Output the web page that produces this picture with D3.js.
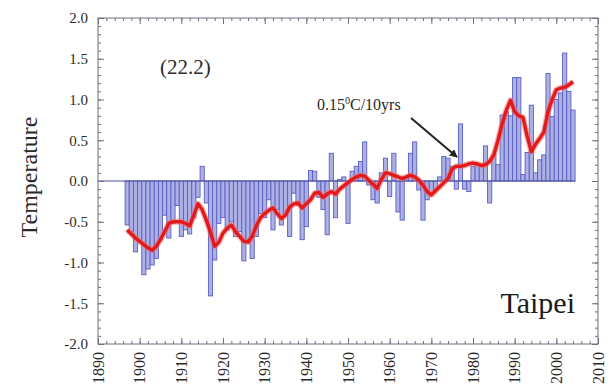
<!DOCTYPE html>
<html><head><meta charset="utf-8">
<title>Taipei temperature anomalies</title>
<script src="https://cdn.jsdelivr.net/npm/d3@7"></script>
<style>body{margin:0;background:#fff}svg{display:block}</style>
</head><body>
<div id="chart"></div>
<script>
// ---- data ----
const firstYear = 1897;
const anomaly = [
  -0.54,-0.62,-0.87,                                              // 1897-1899
  -0.75,-1.15,-1.08,-1.03,-0.95,-0.70,-0.42,-0.70,-0.52,-0.30,    // 1900s
  -0.68,-0.60,-0.65,-0.45,-0.20, 0.18,-0.27,-1.41,-0.97,-0.52,    // 1910s
  -0.45,-0.60,-0.50,-0.68,-0.62,-0.98,-0.72,-0.95,-0.68,-0.40,    // 1920s
  -0.45,-0.23,-0.60,-0.35,-0.54,-0.40,-0.68,-0.15,-0.30,-0.72,    // 1930s
  -0.56, 0.13, 0.12,-0.20,-0.35,-0.66, 0.34,-0.45, 0.02, 0.05,    // 1940s
  -0.52, 0.12, 0.18, 0.24, 0.48,-0.05,-0.23,-0.27, 0.10, 0.28,    // 1950s
  -0.19, 0.34,-0.38,-0.48, 0.05, 0.34, 0.48,-0.11,-0.48,-0.23,    // 1960s
  -0.15,-0.10, 0.05, 0.30, 0.28, 0.18,-0.10, 0.70,-0.10,-0.13,    // 1970s
   0.18, 0.20, 0.18, 0.43,-0.27, 0.32, 0.20, 0.81, 0.85, 0.80,    // 1980s
   1.27, 1.27, 0.08, 0.35, 0.93, 0.10, 0.26, 0.32, 1.32, 0.79,    // 1990s
   1.00, 1.08, 1.57, 1.10, 0.87                                   // 2000-2004
];
const smooth = [
  -0.60,-0.65,-0.70,
  -0.74,-0.78,-0.82,-0.85,-0.80,-0.72,-0.62,-0.52,-0.50,-0.50,
  -0.50,-0.52,-0.55,-0.42,-0.28,-0.35,-0.48,-0.63,-0.80,-0.75,
  -0.64,-0.58,-0.54,-0.62,-0.68,-0.74,-0.75,-0.68,-0.55,-0.45,
  -0.40,-0.36,-0.33,-0.40,-0.46,-0.42,-0.32,-0.28,-0.27,-0.33,
  -0.28,-0.23,-0.15,-0.14,-0.20,-0.16,-0.13,-0.16,-0.10,-0.06,
  -0.02, 0.02, 0.05, 0.07, 0.06, 0.01,-0.04,-0.09, 0.02, 0.10,
   0.09, 0.07, 0.05, 0.03, 0.05, 0.07, 0.05, 0.01,-0.05,-0.13,
  -0.17,-0.12,-0.07,-0.02, 0.03, 0.15, 0.18, 0.18, 0.19, 0.21,
   0.22, 0.21, 0.19, 0.20, 0.24, 0.32, 0.50, 0.70, 0.87, 0.99,
   0.85, 0.80, 0.78, 0.55, 0.36, 0.45, 0.52, 0.60, 0.85, 1.00,
   1.12, 1.14, 1.15, 1.18, 1.22
];
const yearTicks = [1890,1900,1910,1920,1930,1940,1950,1960,1970,1980,1990,2000,2010];
const valueTicks = [-2.0,-1.5,-1.0,-0.5,0.0,0.5,1.0,1.5,2.0];
const yLabel = "Temperature";
const stationLabel = "Taipei";
const meanLabel = "(22.2)";

// ---- layout ----
const W = 609, H = 392;
const svg = d3.select("#chart").append("svg").attr("width", W).attr("height", H)
  .style("font-family", "'Liberation Serif', 'DejaVu Serif', serif");
const L = 98, R = 598, T = 18, B = 344;
const x = d3.scaleLinear().domain([1890, 2010]).range([L, R]);
const y = d3.scaleLinear().domain([-2, 2]).range([B, T]);
const data = anomaly.map((v, i) => ({year: firstYear + i, v, s: smooth[i]}));
const txt = "#2a2a2a";

// bars
svg.append("g").selectAll("rect").data(data).join("rect")
  .attr("x", d => x(d.year - 0.5))
  .attr("width", d => x(d.year + 0.5) - x(d.year - 0.5))
  .attr("y", d => y(Math.max(0, d.v)))
  .attr("height", d => Math.abs(y(d.v) - y(0)))
  .attr("fill", "#adb0e4")
  .attr("stroke", "#5b5fc0")
  .attr("stroke-width", 0.9);

// zero line
svg.append("line")
  .attr("x1", L).attr("x2", x(firstYear + anomaly.length - 0.5))
  .attr("y1", y(0)).attr("y2", y(0))
  .attr("stroke", "#4a4d9a").attr("stroke-width", 1.2);

// smoothed red line
const lineGen = d3.line().x(d => x(d.year)).y(d => y(d.s));
svg.append("path").datum(data).attr("d", lineGen)
  .attr("fill", "none").attr("stroke", "#f07070").attr("stroke-width", 6)
  .attr("stroke-linejoin", "round").attr("opacity", 0.55);
svg.append("path").datum(data).attr("d", lineGen)
  .attr("fill", "none").attr("stroke", "#e31a1c").attr("stroke-width", 3.4)
  .attr("stroke-linejoin", "round");

// frame
svg.append("rect").attr("x", L).attr("y", T).attr("width", R - L).attr("height", B - T)
  .attr("fill", "none").attr("stroke", "#6f6f80").attr("stroke-width", 1);

// inward ticks on all four sides
const minorX = d3.range(1890, 2011, 2);
const minorY = d3.range(-20, 21).map(k => k / 10);
function styleAxis(g) {
  g.select(".domain").remove();
  g.selectAll("line").attr("stroke", "#6f6f80");
  g.selectAll("text").remove();
}
svg.append("g").attr("transform", `translate(0,${B})`)
  .call(d3.axisBottom(x).tickValues(minorX).tickSize(-3)).call(styleAxis);
svg.append("g").attr("transform", `translate(0,${T})`)
  .call(d3.axisTop(x).tickValues(minorX).tickSize(-3)).call(styleAxis);
svg.append("g").attr("transform", `translate(${L},0)`)
  .call(d3.axisLeft(y).tickValues(minorY).tickSize(-3)).call(styleAxis);
svg.append("g").attr("transform", `translate(${R},0)`)
  .call(d3.axisRight(y).tickValues(minorY).tickSize(-3)).call(styleAxis);
svg.append("g").attr("transform", `translate(0,${B})`)
  .call(d3.axisBottom(x).tickValues(yearTicks).tickSize(-6)).call(styleAxis);
svg.append("g").attr("transform", `translate(0,${T})`)
  .call(d3.axisTop(x).tickValues(yearTicks).tickSize(-6)).call(styleAxis);
svg.append("g").attr("transform", `translate(${L},0)`)
  .call(d3.axisLeft(y).tickValues(valueTicks).tickSize(-6)).call(styleAxis);
svg.append("g").attr("transform", `translate(${R},0)`)
  .call(d3.axisRight(y).tickValues(valueTicks).tickSize(-6)).call(styleAxis);

// year labels, rotated to read bottom-to-top
svg.append("g").selectAll("text").data(yearTicks).join("text")
  .attr("transform", d => `translate(${x(d) + 5.5},${B + 8}) rotate(-90)`)
  .attr("text-anchor", "end")
  .attr("font-size", 16).attr("fill", txt)
  .text(d => String(d));

// value labels
svg.append("g").selectAll("text").data(valueTicks).join("text")
  .attr("x", L - 10).attr("y", d => y(d)).attr("dy", "0.35em")
  .attr("text-anchor", "end")
  .attr("font-size", 15).attr("fill", txt)
  .text(d => d.toFixed(1));

// y label
svg.append("text")
  .attr("transform", `translate(37,${(T + B) / 2 - 4}) rotate(-90)`)
  .attr("text-anchor", "middle")
  .attr("font-size", 24).attr("fill", txt)
  .text(yLabel);

// labels in plot
svg.append("text").attr("x", 160).attr("y", 74)
  .attr("font-size", 21).attr("fill", txt)
  .text(meanLabel);
svg.append("text").attr("x", 575).attr("y", 313).attr("text-anchor", "end")
  .attr("font-size", 30).attr("fill", "#1a1a1a")
  .text(stationLabel);

// trend annotation
const ann = svg.append("text").attr("x", 317).attr("y", 110)
  .attr("font-size", 16).attr("fill", txt);
ann.append("tspan").text("0.15");
ann.append("tspan").attr("dy", -6).attr("font-size", 10).text("0");
ann.append("tspan").attr("dy", 6).text("C/10yrs");

svg.append("defs").append("marker").attr("id", "ah")
  .attr("viewBox", "0 0 10 10").attr("refX", 9).attr("refY", 5)
  .attr("markerWidth", 4).attr("markerHeight", 4).attr("orient", "auto")
  .append("path").attr("d", "M0,0L10,5L0,10Z").attr("fill", "#222");
svg.append("line")
  .attr("x1", 411).attr("y1", 118).attr("x2", 457).attr("y2", 157)
  .attr("stroke", "#222").attr("stroke-width", 2).attr("marker-end", "url(#ah)");
</script>
</body></html>
